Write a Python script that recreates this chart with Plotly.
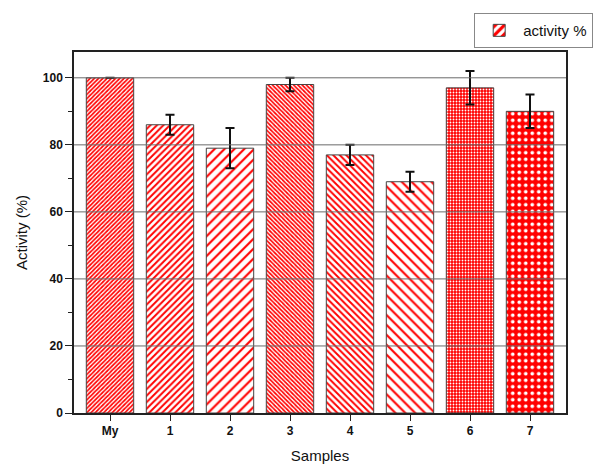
import plotly.graph_objects as go

# Sample activity data
samples = ["My", "1", "2", "3", "4", "5", "6", "7"]
activity = [100, 86, 79, 98, 77, 69, 97, 90]
errors = [0, 3, 6, 2, 3, 3, 5, 5]
y_ticks = [0, 20, 40, 60, 80, 100]

# Fill patterns per bar
shapes = ["/", "/", "/", "\\", "\\", "\\", ".", "."]
sizes = [3, 4.6, 7, 3, 4.6, 7, 3, 6.5]
solid = [0.55, 0.42, 0.3, 0.55, 0.42, 0.3, 0.3, 0.26]
fg = ["#ff0000"] * 6 + ["#ffffff", "#ffffff"]
bg = ["#ffffff"] * 6 + ["#ff0000", "#ff0000"]

font = "Liberation Sans, Arial, sans-serif"

fig = go.Figure()
fig.add_trace(go.Bar(
    x=list(range(len(samples))),
    y=activity,
    width=0.79,
    name="activity %",
    showlegend=True,
    marker=dict(
        color="#ffffff",
        line=dict(color="#444444", width=1),
        pattern=dict(shape=shapes, size=sizes, solidity=solid,
                     fgcolor=fg, bgcolor=bg, fillmode="replace"),
    ),
    error_y=dict(type="data", array=errors, visible=True,
                 color="#111111", thickness=2, width=4.5),
))

# Horizontal grid lines drawn over the bars
for v in y_ticks[1:]:
    fig.add_shape(type="line", xref="paper", x0=0, x1=1, yref="y", y0=v, y1=v,
                  line=dict(color="#6a6a6a", width=1), layer="above")

fig.update_layout(
    width=601, height=468,
    margin=dict(l=74, r=35, t=52, b=55, autoexpand=False),
    plot_bgcolor="white", paper_bgcolor="white",
    font=dict(family=font, color="#111111"),
    legend=dict(
        xref="container", yref="container",
        x=0.789, y=0.972, xanchor="left", yanchor="top",
        bgcolor="white", bordercolor="#888888", borderwidth=1,
        font=dict(size=15, family=font, color="#111111"),
        itemwidth=38, tracegroupgap=0,
    ),
    xaxis=dict(
        range=[-0.6, 7.6], automargin=False,
        tickmode="array", tickvals=list(range(len(samples))), ticktext=samples,
        ticks="outside", ticklen=6, tickwidth=1.2, tickcolor="#222222",
        tickfont=dict(size=12, family=font, weight="bold", color="#111111"),
        showline=True, linecolor="#222222", linewidth=1.5, mirror=True,
        showgrid=False, zeroline=False,
        title=dict(text="Samples", font=dict(size=15, family=font), standoff=13),
    ),
    yaxis=dict(
        range=[0, 107.7], automargin=False,
        tickmode="array", tickvals=y_ticks,
        ticks="outside", ticklen=7, tickwidth=1.2, tickcolor="#222222",
        minor=dict(tickmode="array", tickvals=[10, 30, 50, 70, 90],
                   ticks="outside", ticklen=4, tickcolor="#222222", showgrid=False),
        tickfont=dict(size=12, family=font, weight="bold", color="#111111"),
        showline=True, linecolor="#222222", linewidth=1.5, mirror=True,
        showgrid=False, zeroline=False,
        title=dict(text="Activity (%)", font=dict(size=15, family=font), standoff=12),
    ),
)

fig.write_html("out.html")
